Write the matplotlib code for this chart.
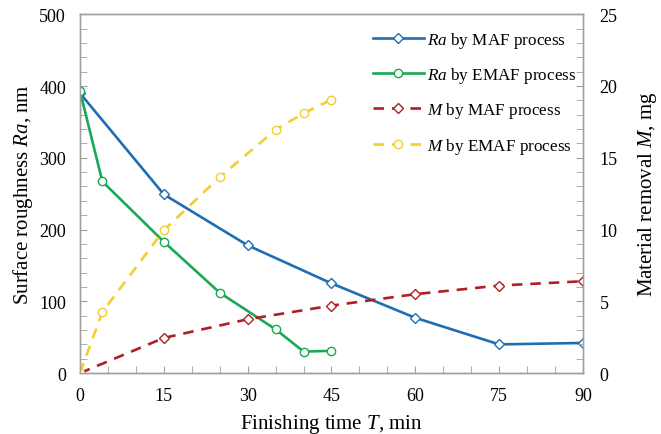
import matplotlib
matplotlib.use("Agg")
import matplotlib.pyplot as plt
from matplotlib.ticker import MultipleLocator

plt.rcParams['font.family'] = ['Liberation Serif', 'DejaVu Serif']
plt.rcParams['mathtext.fontset'] = 'custom'
plt.rcParams['mathtext.it'] = 'Liberation Serif:italic'
plt.rcParams['mathtext.rm'] = 'Liberation Serif'

t_maf = [0, 15, 30, 45, 60, 75, 90]
ra_maf = [390, 249, 178, 125, 77, 40, 42]
m_maf = [0, 2.45, 3.75, 4.7, 5.5, 6.1, 6.4]

t_emaf = [0, 4, 15, 25, 35, 40, 45]
ra_emaf = [393, 267, 183, 112, 61, 30, 31]
m_emaf = [0, 4.25, 9.95, 13.65, 16.95, 18.1, 19.05]

labels = [r'$\mathit{Ra}$ by MAF process', r'$\mathit{Ra}$ by EMAF process',
          r'$\mathit{M}$ by MAF process', r'$\mathit{M}$ by EMAF process']

c_blue = '#1f6db3'
c_green = '#19a955'
c_red = '#b01f24'
c_yellow = '#f1cf2e'

fig = plt.figure(figsize=(6.61, 4.35), dpi=100)
ax = fig.add_axes([0.121, 0.140, 0.761, 0.825])
ax2 = ax.twinx()

lw = 1.9
ms = 6
l1, = ax.plot(t_maf, ra_maf, color=c_blue, lw=lw, marker='D', ms=ms-1,
              mfc='white', mec=c_blue, mew=1.0, zorder=3)
l2, = ax.plot(t_emaf, ra_emaf, color=c_green, lw=lw, marker='o', ms=ms,
              mfc='white', mec=c_green, mew=1.0, zorder=3)
l3, = ax2.plot(t_maf, m_maf, color=c_red, lw=lw, ls=(0, (4, 3)), marker='D', ms=ms-1,
               mfc='white', mec=c_red, mew=1.0)
l4, = ax2.plot(t_emaf, m_emaf, color=c_yellow, lw=lw, ls=(0, (4, 3)), marker='o', ms=ms,
               mfc='white', mec=c_yellow, mew=1.0)

ax.set_xlim(0, 90)
ax.set_ylim(0, 500)
ax2.set_ylim(0, 25)
ax.xaxis.set_major_locator(MultipleLocator(15))
ax.xaxis.set_minor_locator(MultipleLocator(5))
ax.yaxis.set_major_locator(MultipleLocator(100))
ax.yaxis.set_minor_locator(MultipleLocator(20))
ax2.yaxis.set_major_locator(MultipleLocator(5))
ax2.yaxis.set_minor_locator(MultipleLocator(1))

for a in (ax, ax2):
    for s in a.spines.values():
        s.set_color('#a0a0a0')
        s.set_linewidth(1.0)
    a.tick_params(which='both', direction='in', color='#a0a0a0', labelsize=13)
    a.tick_params(which='major', length=5)
    a.tick_params(which='minor', length=5)
ax.tick_params(axis='x', pad=10)
ax.tick_params(axis='y', pad=10)
ax2.tick_params(axis='y', pad=12)

ax.set_xlabel(r'Finishing time $\mathit{T}$, min', fontsize=15, labelpad=6)
ax.set_ylabel(r'Surface roughness $\mathit{Ra}$, nm', fontsize=15, labelpad=3)
ax2.set_ylabel(r'Material removal $\mathit{M}$, mg', fontsize=15, labelpad=13)

leg = ax.legend([l1, l2, l3, l4], labels, loc='upper right', bbox_to_anchor=(1.018, 1.0),
                frameon=False, fontsize=12.3, handlelength=3.0, handletextpad=0.2,
                labelspacing=0.9)

fig.savefig('out.png', dpi=100)
